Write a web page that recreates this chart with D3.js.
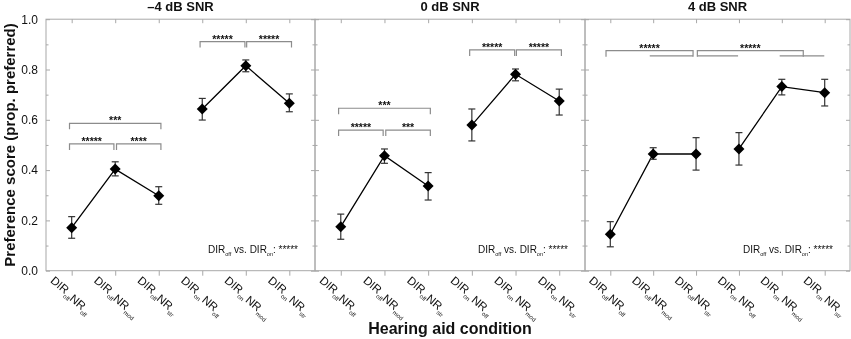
<!DOCTYPE html>
<html>
<head>
<meta charset="utf-8">
<script src="https://cdn.jsdelivr.net/npm/d3@7"></script>
<style>
    body { margin: 0; background: #fff; }
    svg { will-change: transform; }
    text { font-family: Arial, "Liberation Sans", sans-serif; fill: #111; }
</style>
</head>
<body>
<div id="chart"></div>
<script>
// panel titles and condition labels
const panelTitles = ["\u20134 dB SNR", "0 dB SNR", "4 dB SNR"];
const conds = [1, 2, 3, 4, 5, 6];
const dirSubs = ["off", "off", "off", "on", "on", "on"];
const nrSubs = ["off", "mod", "str", "off", "mod", "str"];

// preference scores per panel (mean, upper and lower error bar)
const means = [
    [0.171, 0.404, 0.298, 0.643, 0.815, 0.666],
    [0.175, 0.457, 0.337, 0.579, 0.781, 0.675],
    [0.145, 0.464, 0.464, 0.484, 0.732, 0.708]
];
const upper = [
    [0.215, 0.433, 0.334, 0.685, 0.838, 0.703],
    [0.225, 0.484, 0.390, 0.643, 0.802, 0.722],
    [0.195, 0.489, 0.529, 0.549, 0.761, 0.761]
];
const lower = [
    [0.129, 0.377, 0.264, 0.599, 0.791, 0.632],
    [0.125, 0.427, 0.281, 0.516, 0.755, 0.619],
    [0.095, 0.443, 0.400, 0.420, 0.699, 0.655]
];
const lineGroups = [[0, 1, 2], [3, 4, 5]];

const yTicks = [0, 0.2, 0.4, 0.6, 0.8, 1.0];
const yMinor = [0.1, 0.3, 0.5, 0.7, 0.9];

// significance brackets: panel, from, to (condition units), level, label
const brackets = [
    {panel: 0, from: 0.95, to: 3.05, level: 0.586, label: "***"},
    {panel: 0, from: 0.95, to: 1.97, level: 0.504, label: "*****"},
    {panel: 0, from: 2.03, to: 3.05, level: 0.504, label: "****"},
    {panel: 0, from: 3.95, to: 4.98, level: 0.911, label: "*****"},
    {panel: 0, from: 5.02, to: 6.05, level: 0.911, label: "*****"},
    {panel: 1, from: 0.95, to: 3.05, level: 0.646, label: "***"},
    {panel: 1, from: 0.95, to: 1.97, level: 0.559, label: "*****"},
    {panel: 1, from: 2.03, to: 3.05, level: 0.559, label: "***"},
    {panel: 1, from: 3.95, to: 4.98, level: 0.878, label: "*****"},
    {panel: 1, from: 5.02, to: 6.05, level: 0.878, label: "*****"},
    {panel: 2, from: 0.90, to: 2.93, level: 0.875, label: "*****"},
    {panel: 2, from: 3.03, to: 5.50, level: 0.875, label: "*****"}
];
// group underlines for the 4 dB panel
const groupLines = [
    {panel: 2, from: 1.92, to: 2.93, level: 0.854},
    {panel: 2, from: 3.03, to: 3.98, level: 0.854},
    {panel: 2, from: 4.95, to: 5.99, level: 0.854}
];
const dirNote = "*****";

const width = 851, height = 339;
const panelLeft = [46, 315, 585];
const panelRight = [315, 585, 850];
const plotTop = 19.2, plotBottom = 270.7;
const axisColor = "#a8a8a8";

const svg = d3.select("#chart").append("svg")
    .attr("width", width)
    .attr("height", height);

const y = d3.scaleLinear().domain([0, 1]).range([plotBottom, plotTop]);

panelTitles.forEach(function(title, p) {
    const x = d3.scaleLinear()
        .domain([0.41, 6.59])
        .range([panelLeft[p], panelRight[p]]);
    const g = svg.append("g").attr("class", "panel");

    // frame
    g.append("rect")
        .attr("x", panelLeft[p])
        .attr("y", plotTop)
        .attr("width", panelRight[p] - panelLeft[p])
        .attr("height", plotBottom - plotTop)
        .attr("fill", "none")
        .attr("stroke", axisColor)
        .attr("stroke-width", 1);

    // y ticks on both sides, pointing in
    const leftAxis = d3.axisLeft(y).tickValues(yTicks).tickSize(-4).tickSizeOuter(0).tickPadding(8)
        .tickFormat(p === 0 ? d3.format(".1f") : "");
    const leftMinor = d3.axisLeft(y).tickValues(yMinor).tickSize(-2.5).tickSizeOuter(0).tickFormat("");
    const rightAxis = d3.axisRight(y).tickValues(yTicks).tickSize(-4).tickSizeOuter(0).tickFormat("");
    const rightMinor = d3.axisRight(y).tickValues(yMinor).tickSize(-2.5).tickSizeOuter(0).tickFormat("");
    const topAxis = d3.axisTop(x).tickValues(conds).tickSize(-4).tickSizeOuter(0).tickFormat("");
    const bottomAxis = d3.axisBottom(x).tickValues(conds).tickSize(5).tickSizeOuter(0).tickFormat("");

    [[leftAxis, panelLeft[p], 0], [leftMinor, panelLeft[p], 0],
     [rightAxis, panelRight[p], 0], [rightMinor, panelRight[p], 0],
     [topAxis, 0, plotTop], [bottomAxis, 0, plotBottom]].forEach(function(a) {
        const ag = g.append("g")
            .attr("transform", `translate(${a[1]},${a[2]})`)
            .call(a[0]);
        ag.select(".domain").remove();
        ag.selectAll("line").attr("stroke", axisColor);
        ag.selectAll("text")
            .attr("font-size", 12)
            .attr("font-family", "Arial, 'Liberation Sans', sans-serif")
            .attr("fill", "#111");
    });

    // title
    g.append("text")
        .attr("x", (panelLeft[p] + panelRight[p]) / 2)
        .attr("y", 11)
        .attr("text-anchor", "middle")
        .attr("font-size", 13)
        .attr("font-weight", "bold")
        .text(title);

    // x tick labels with subscripts
    g.selectAll(".xlab")
        .data(conds)
        .join("text")
        .attr("class", "xlab")
        .attr("transform", d => `translate(${x(d) - 22},${plotBottom + 11}) rotate(40)`)
        .attr("font-size", 11.5)
        .each(function(d, i) {
            const t = d3.select(this);
            t.append("tspan").text("DIR");
            t.append("tspan").attr("font-size", 6).attr("dy", 3.5).text(dirSubs[i]);
            t.append("tspan").attr("dy", -2).attr("dx", dirSubs[i] === "on" ? 2 : 0).text("NR");
            t.append("tspan").attr("font-size", 6).attr("dy", 3.5).text(nrSubs[i]);
        });

    // brackets
    const br = brackets.filter(b => b.panel === p);
    g.selectAll(".bracket")
        .data(br)
        .join("path")
        .attr("class", "bracket")
        .attr("fill", "none")
        .attr("stroke", "#8c8c8c")
        .attr("stroke-width", 1.2)
        .attr("d", b => `M${x(b.from)},${y(b.level) + 6}V${y(b.level)}H${x(b.to)}V${y(b.level) + 6}`);
    g.selectAll(".blabel")
        .data(br)
        .join("text")
        .attr("class", "blabel")
        .attr("x", b => (x(b.from) + x(b.to)) / 2)
        .attr("y", b => y(b.level) + 1)
        .attr("text-anchor", "middle")
        .attr("font-size", 10.5)
        .attr("font-weight", "bold")
        .text(b => b.label);
    g.selectAll(".gline")
        .data(groupLines.filter(l => l.panel === p))
        .join("line")
        .attr("class", "gline")
        .attr("x1", l => x(l.from))
        .attr("x2", l => x(l.to))
        .attr("y1", l => y(l.level))
        .attr("y2", l => y(l.level))
        .attr("stroke", "#8c8c8c")
        .attr("stroke-width", 1.2);

    // connecting lines
    const line = d3.line()
        .x(i => x(conds[i]))
        .y(i => y(means[p][i]));
    lineGroups.forEach(function(grp) {
        g.append("path")
            .datum(grp)
            .attr("fill", "none")
            .attr("stroke", "#000")
            .attr("stroke-width", 1.3)
            .attr("d", line);
    });

    // error bars
    const eb = g.selectAll(".err")
        .data(conds)
        .join("g")
        .attr("class", "err")
        .attr("stroke", "#333")
        .attr("stroke-width", 1.2);
    eb.append("line")
        .attr("x1", d => x(d)).attr("x2", d => x(d))
        .attr("y1", (d, i) => y(upper[p][i]))
        .attr("y2", (d, i) => y(lower[p][i]));
    eb.append("line")
        .attr("x1", d => x(d) - 3.5).attr("x2", d => x(d) + 3.5)
        .attr("y1", (d, i) => y(upper[p][i]))
        .attr("y2", (d, i) => y(upper[p][i]));
    eb.append("line")
        .attr("x1", d => x(d) - 3.5).attr("x2", d => x(d) + 3.5)
        .attr("y1", (d, i) => y(lower[p][i]))
        .attr("y2", (d, i) => y(lower[p][i]));

    // diamonds
    g.selectAll(".pt")
        .data(conds)
        .join("path")
        .attr("class", "pt")
        .attr("fill", "#000")
        .attr("d", (d, i) => {
            const cx = x(d), cy = y(means[p][i]), r = 5.5;
            return `M${cx},${cy - r}L${cx + r},${cy}L${cx},${cy + r}L${cx - r},${cy}Z`;
        });

    // DIR note
    const note = g.append("text")
        .attr("x", panelRight[p] - 17)
        .attr("y", 253)
        .attr("text-anchor", "end")
        .attr("font-size", 10);
    note.append("tspan").text("DIR");
    note.append("tspan").attr("font-size", 5.5).attr("dy", 2.5).text("off");
    note.append("tspan").attr("dy", -2.5).text(" vs. DIR");
    note.append("tspan").attr("font-size", 5.5).attr("dy", 2.5).text("on");
    note.append("tspan").attr("dy", -2.5).text(": " + dirNote);
});

// axis titles
svg.append("text")
    .attr("transform", `translate(15,${(plotTop + plotBottom) / 2}) rotate(-90)`)
    .attr("text-anchor", "middle")
    .attr("font-size", 15)
    .attr("font-weight", "bold")
    .text("Preference score (prop. preferred)");
svg.append("text")
    .attr("x", 450)
    .attr("y", 334)
    .attr("text-anchor", "middle")
    .attr("font-size", 16)
    .attr("font-weight", "bold")
    .text("Hearing aid condition");
</script>
</body>
</html>
